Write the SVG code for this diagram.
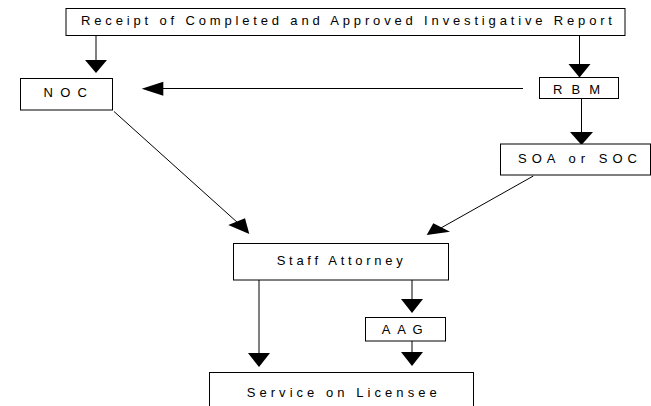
<svg xmlns="http://www.w3.org/2000/svg" width="651" height="406" viewBox="0 0 651 406">
<style>
.box{fill:#fff;stroke:#000;stroke-width:1}
.lbl{font-family:"Liberation Sans",Arial,sans-serif;font-size:13px;fill:#000}
.ln{stroke:#000;stroke-width:1;fill:none}
.hd{fill:#000;stroke:none}
</style>
<rect width="651" height="406" fill="#fff"/>
<g id="connectors">
<line class="ln" x1="96" y1="36" x2="96" y2="61"/>
<polygon class="hd" points="96,73 85,60 107,60"/>
<line class="ln" x1="579.5" y1="36" x2="579.5" y2="65"/>
<polygon class="hd" points="579.5,77.5 568.5,64 590.5,64"/>
<line class="ln" x1="523" y1="88.5" x2="162" y2="88.5"/>
<polygon class="hd" points="141.7,88.7 163.3,81.7 163.3,95.7"/>
<line class="ln" x1="581.5" y1="98" x2="581.5" y2="133"/>
<polygon class="hd" points="581.5,145 570,132 593,132"/>
<line class="ln" x1="114" y1="111.5" x2="238" y2="223"/>
<polygon class="hd" points="249.3,234 228.3,225 245,218.3"/>
<line class="ln" x1="533.3" y1="176" x2="440" y2="228.5"/>
<polygon class="hd" points="426.7,235 433.3,223.3 450,231.7"/>
<line class="ln" x1="259" y1="280" x2="259" y2="354"/>
<polygon class="hd" points="259,367 248,353 270,353"/>
<line class="ln" x1="412" y1="280" x2="412" y2="300"/>
<polygon class="hd" points="412,313 401,299 423,299"/>
<line class="ln" x1="412" y1="341" x2="412" y2="353"/>
<polygon class="hd" points="412,366 401,352 423,352"/>
</g>
<g id="receipt">
<rect class="box" x="66" y="8.5" width="559" height="27"/>
<text class="lbl" x="81" y="25" textLength="531" lengthAdjust="spacing">Receipt of Completed and Approved Investigative Report</text>
</g>
<g id="noc">
<rect class="box" x="20.5" y="78.5" width="92" height="31.5"/>
<text class="lbl" x="43.5" y="96.5" textLength="43.5" lengthAdjust="spacing">NOC</text>
</g>
<g id="rbm">
<rect class="box" x="539.5" y="77.5" width="79" height="21"/>
<text class="lbl" x="553" y="94.3" textLength="47" lengthAdjust="spacing">RBM</text>
</g>
<g id="soa">
<rect class="box" x="500.5" y="144" width="150" height="31"/>
<text class="lbl" x="518" y="163.3" textLength="119" lengthAdjust="spacing">SOA or SOC</text>
</g>
<g id="staff">
<rect class="box" x="233.5" y="243.5" width="215" height="36.5"/>
<text class="lbl" x="276.7" y="265" textLength="126" lengthAdjust="spacing">Staff Attorney</text>
</g>
<g id="aag">
<rect class="box" x="365.5" y="317.5" width="80" height="23.5"/>
<text class="lbl" x="381.7" y="334" textLength="41" lengthAdjust="spacing">AAG</text>
</g>
<g id="service">
<rect class="box" x="209.5" y="372.5" width="264" height="40"/>
<text class="lbl" x="246.7" y="396.7" textLength="190" lengthAdjust="spacing">Service on Licensee</text>
</g>
</svg>
